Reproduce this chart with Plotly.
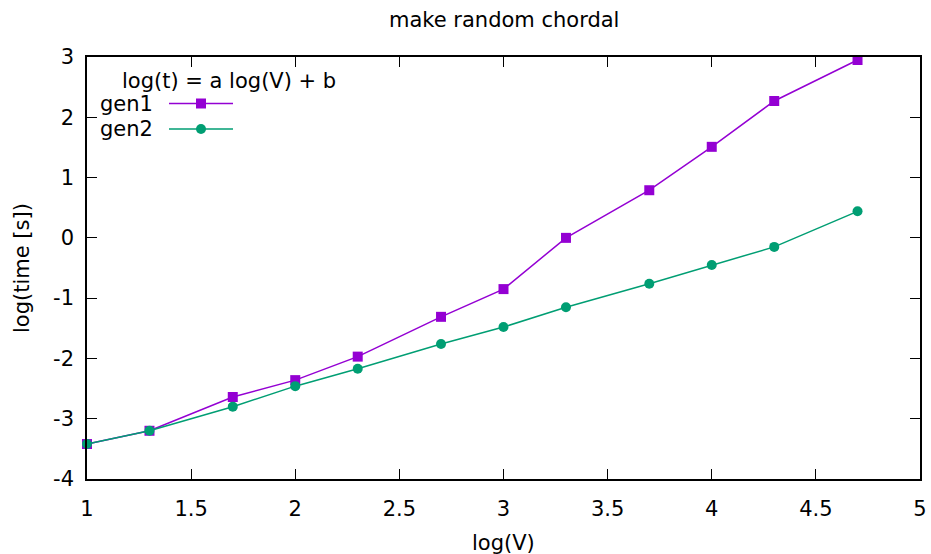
import plotly.graph_objects as go

x_vals = [1.0, 1.3, 1.7, 2.0, 2.3, 2.7, 3.0, 3.3, 3.7, 4.0, 4.3, 4.7]
gen1 = [-3.42, -3.20, -2.64, -2.36, -1.97, -1.31, -0.85, 0.0, 0.79, 1.51, 2.27, 2.95]
gen2 = [-3.42, -3.20, -2.80, -2.46, -2.17, -1.76, -1.48, -1.15, -0.76, -0.45, -0.15, 0.44]

x_ticks = [1, 1.5, 2, 2.5, 3, 3.5, 4, 4.5, 5]
x_tick_text = ["1", "1.5", "2", "2.5", "3", "3.5", "4", "4.5", "5"]
y_ticks = [-4, -3, -2, -1, 0, 1, 2, 3]
y_tick_text = ["-4", "-3", "-2", "-1", "0", "1", "2", "3"]

C1 = "#9400d3"
C2 = "#009e73"
FONT = "DejaVu Sans"
FS = 21

W, H = 931, 554
L, R, T, B = 87, 11, 57, 75
pw, ph = W - L - R, H - T - B

fig = go.Figure()
fig.add_trace(go.Scatter(x=x_vals, y=gen1, mode="lines+markers", name="gen1",
                         line=dict(color=C1, width=1.5),
                         marker=dict(symbol="square", size=10, color=C1),
                         cliponaxis=False))
fig.add_trace(go.Scatter(x=x_vals, y=gen2, mode="lines+markers", name="gen2",
                         line=dict(color=C2, width=1.5),
                         marker=dict(symbol="circle", size=10, color=C2),
                         cliponaxis=False))

axis_common = dict(showgrid=False, zeroline=False, showline=True, linecolor="black",
                   linewidth=1.5, mirror="ticks", ticks="inside", ticklen=10,
                   tickwidth=1.2, tickcolor="black", automargin=False,
                   tickfont=dict(family=FONT, size=FS, color="black"))

fig.update_layout(
    width=W, height=H,
    margin=dict(l=L, r=R, t=T, b=B, autoexpand=False),
    paper_bgcolor="white", plot_bgcolor="white",
    showlegend=False,
    font=dict(family=FONT, size=FS, color="black"),
    xaxis=dict(range=[1, 5], tickvals=x_ticks, ticktext=x_tick_text,
               ticklabelstandoff=10, **axis_common),
    yaxis=dict(range=[-4, 3], tickvals=y_ticks, ticktext=y_tick_text,
               ticklabelstandoff=7, **axis_common),
)

def px_x(p):
    return (p - L) / pw

def px_y(p):
    return 1 - (p - T) / ph

ann = []
ann.append(dict(text="make random chordal", x=0.5, y=1, xref="paper", yref="paper",
                xanchor="center", yanchor="middle", yshift=37, showarrow=False,
                font=dict(family=FONT, size=FS)))
ann.append(dict(text="log(V)", x=0.5, y=0, xref="paper", yref="paper",
                xanchor="center", yanchor="middle", yshift=-64, showarrow=False,
                font=dict(family=FONT, size=FS)))
ann.append(dict(text="log(time [s])", x=0, y=0.5, xref="paper", yref="paper",
                xanchor="center", yanchor="middle", xshift=-65, textangle=-90,
                showarrow=False, font=dict(family=FONT, size=FS)))
# legend
ann.append(dict(text="log(t) = a log(V) + b", x=px_x(229), y=px_y(81), xref="paper",
                yref="paper", xanchor="center", yanchor="middle", showarrow=False,
                font=dict(family=FONT, size=FS)))
for lbl, yy in (("gen1", 104), ("gen2", 129)):
    ann.append(dict(text=lbl, x=px_x(155), y=px_y(yy), xref="paper", yref="paper",
                    xanchor="right", yanchor="middle", showarrow=False,
                    font=dict(family=FONT, size=FS)))
fig.update_layout(annotations=ann)

shapes = []
for col, yy, sym in ((C1, 103.5, "square"), (C2, 129, "circle")):
    shapes.append(dict(type="line", xref="paper", yref="paper",
                       x0=px_x(169), x1=px_x(233), y0=px_y(yy), y1=px_y(yy),
                       line=dict(color=col, width=1.5)))
    shapes.append(dict(type="rect" if sym == "square" else "circle",
                       xref="paper", yref="paper",
                       x0=px_x(201 - 5), x1=px_x(201 + 5),
                       y0=px_y(yy + 5), y1=px_y(yy - 5),
                       fillcolor=col, line=dict(color=col, width=0)))
fig.update_layout(shapes=shapes)

fig.write_html("out.html")
